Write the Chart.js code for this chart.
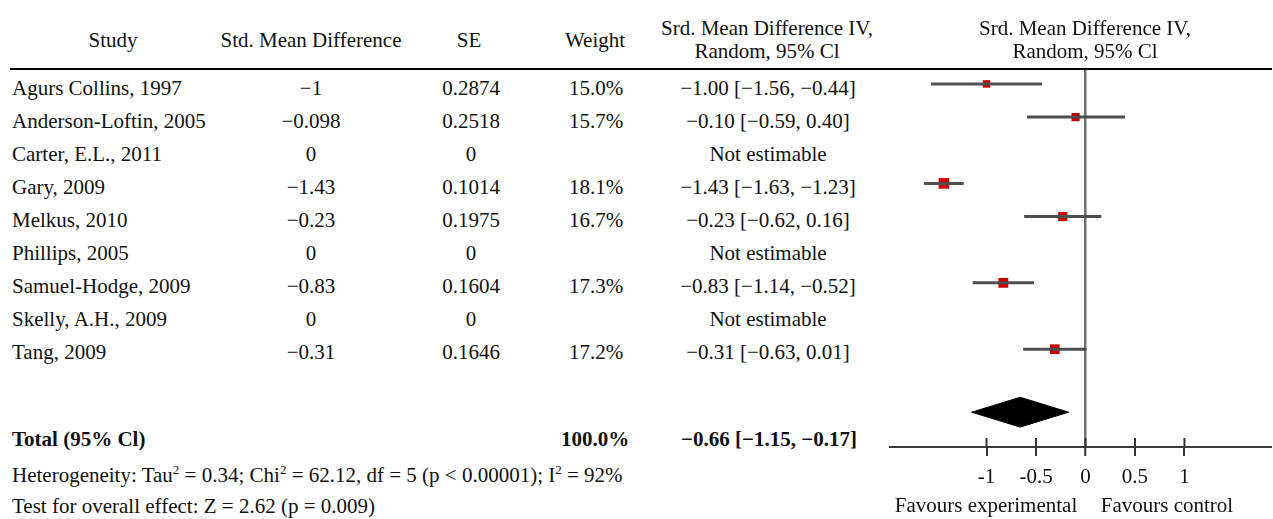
<!DOCTYPE html>
<html><head><meta charset="utf-8">
<script src="https://cdn.jsdelivr.net/npm/chart.js@4.4.1/dist/chart.umd.min.js"></script>
<style>
html,body{margin:0;padding:0;background:#fff;}
#wrap{position:relative;width:1273px;height:519px;overflow:hidden;font-family:"Liberation Serif","Times New Roman",serif;font-size:21px;color:#111;}
.t{position:absolute;white-space:nowrap;line-height:24px;height:24px;}
.c{transform:translateX(-50%);text-align:center;}
.b{font-weight:bold;}
sup{font-size:13px;line-height:0;vertical-align:baseline;position:relative;top:-8px;}
#cv{position:absolute;left:880px;top:0;width:393px;height:519px;}
.rule{position:absolute;background:#000;}
</style></head><body>
<div id="wrap">
<canvas id="cv" width="393" height="519"></canvas>
</div>
<script>
// ---- data ----
const studies = ["Agurs Collins, 1997","Anderson-Loftin, 2005","Carter, E.L., 2011","Gary, 2009","Melkus, 2010","Phillips, 2005","Samuel-Hodge, 2009","Skelly, A.H., 2009","Tang, 2009"];
const smdValues = [-1, -0.098, 0, -1.43, -0.23, 0, -0.83, 0, -0.31];
const seValues = [0.2874, 0.2518, 0, 0.1014, 0.1975, 0, 0.1604, 0, 0.1646];
const weights = [15.0, 15.7, null, 18.1, 16.7, null, 17.3, null, 17.2];
const ciEst = [-1.00, -0.10, null, -1.43, -0.23, null, -0.83, null, -0.31];
const ciLow = [-1.56, -0.59, null, -1.63, -0.62, null, -1.14, null, -0.63];
const ciHigh = [-0.44, 0.40, null, -1.23, 0.16, null, -0.52, null, 0.01];
const totalWeight = 100.0;
const totalEst = -0.66, totalLow = -1.15, totalHigh = -0.17;
const tickValues = [-1, -0.5, 0, 0.5, 1];
const tickLabels = ["-1", "-0.5", "0", "0.5", "1"];
const heterogeneity = "Heterogeneity: Tau<sup>2</sup> = 0.34; Chi<sup>2</sup> = 62.12, df = 5 (p &lt; 0.00001); I<sup>2</sup> = 92%";
const overallTest = "Test for overall effect: Z = 2.62 (p = 0.009)";
const favourLeft = "Favours experimental", favourRight = "Favours control";
const colHeaders = ["Study", "Std. Mean Difference", "SE", "Weight"];
const ciHeader = ["Srd. Mean Difference IV,", "Random, 95% Cl"];

// ---- layout helpers ----
const wrap = document.getElementById('wrap');
const M = s => String(s).replace(/-/g, '\u2212');
const f2 = v => M(v.toFixed(2));
function txt(html, x, yc, center, bold) {
  const d = document.createElement('div');
  d.className = 't' + (center ? ' c' : '') + (bold ? ' b' : '');
  d.style.left = x + 'px';
  d.style.top = (yc - 12) + 'px';
  d.innerHTML = html;
  wrap.appendChild(d);
}
const rule = document.createElement('div');
rule.className = 'rule';
Object.assign(rule.style, {left: '10px', top: '68px', width: '1262px', height: '2px'});
wrap.appendChild(rule);

const colX = [113, 311, 469, 595];
colHeaders.forEach((h, i) => txt(h, colX[i], 40, true));
[767, 1085].forEach(x => { txt(ciHeader[0], x, 28, true); txt(ciHeader[1], x, 51, true); });

const rowY = i => 88 + 33 * i;
studies.forEach((s, i) => {
  const y = rowY(i);
  txt(s, 12, y, false);
  txt(M(smdValues[i]), 311, y, true);
  txt(String(seValues[i]), 471, y, true);
  if (weights[i] !== null) txt(weights[i].toFixed(1) + '%', 596, y, true);
  txt(ciEst[i] === null ? 'Not estimable' :
      f2(ciEst[i]) + ' [' + f2(ciLow[i]) + ', ' + f2(ciHigh[i]) + ']', 768, y, true);
});
txt('Total (95% Cl)', 12, 439, false, true);
txt(totalWeight.toFixed(1) + '%', 595, 439, true, true);
txt(f2(totalEst) + ' [' + f2(totalLow) + ', ' + f2(totalHigh) + ']', 769, 439, true, true);
txt(heterogeneity, 12, 475, false);
txt(overallTest, 12, 506, false);
txt(favourLeft, 986, 505, true);
txt(favourRight, 1167, 505, true);

// ---- forest plot ----
const datasets = [];
studies.forEach((s, i) => {
  if (ciEst[i] === null) return;
  datasets.push({type: 'line', data: [{x: ciLow[i], y: i}, {x: ciHigh[i], y: i}],
    borderColor: '#4e4e4e', borderWidth: 3, pointRadius: 0, fill: false});
});
const pts = [];
studies.forEach((s, i) => { if (ciEst[i] !== null) pts.push({x: ciEst[i], y: i, w: weights[i]}); });
datasets.push({type: 'scatter', data: pts, pointStyle: 'rect', backgroundColor: '#cc0000',
  borderWidth: 0, pointBorderWidth: 0,
  pointRadius: ctx => ((ctx.raw ? ctx.raw.w : 15) - 7.5) / Math.SQRT2});
const dY = 9.9, dH = 0.45;
datasets.push({type: 'line', data: [{x: totalLow, y: dY}, {x: totalEst, y: dY - dH}, {x: totalHigh, y: dY}, {x: totalEst, y: dY + dH}, {x: totalLow, y: dY}],
  borderColor: '#000', backgroundColor: '#000', borderWidth: 1, pointRadius: 0, fill: 'shape'});

const upperTicks = {
  id: 'upperTicks',
  afterDraw(chart) {
    const xs = chart.scales.x, ctx = chart.ctx, b = chart.chartArea.bottom;
    ctx.save(); ctx.strokeStyle = '#333'; ctx.lineWidth = 2;
    tickValues.forEach(v => { const px = xs.getPixelForValue(v); ctx.beginPath(); ctx.moveTo(px, b - 9); ctx.lineTo(px, b); ctx.stroke(); });
    ctx.restore();
  }
};

new Chart(document.getElementById('cv'), {
  type: 'scatter',
  data: {datasets},
  plugins: [upperTicks],
  options: {
    responsive: false, animation: false,
    layout: {autoPadding: false, padding: {left: 10, right: 1, top: 69, bottom: 32}},
    plugins: {legend: {display: false}, tooltip: {enabled: false}},
    scales: {
      x: {type: 'linear', min: -1.975, max: 1.884,
        afterBuildTicks: s => { s.ticks = tickValues.map(v => ({value: v})); },
        afterFit: s => { s.height = 40; },
        border: {display: true, color: '#3a3a3a', width: 2},
        grid: {drawOnChartArea: true, drawTicks: true, tickLength: 9, tickWidth: 2, tickColor: '#333',
          color: c => (c.tick && c.tick.value === 0) ? '#707070' : 'rgba(0,0,0,0)',
          lineWidth: c => (c.tick && c.tick.value === 0) ? 2.5 : 0},
        ticks: {padding: 9, maxRotation: 0, autoSkip: false, color: '#111',
          font: {family: 'Liberation Serif', size: 21},
          callback: (v, i) => tickLabels[i]}
      },
      y: {type: 'linear', display: false, reverse: true, min: -0.45, max: 10.95}
    }
  }
});
</script>
</body></html>
